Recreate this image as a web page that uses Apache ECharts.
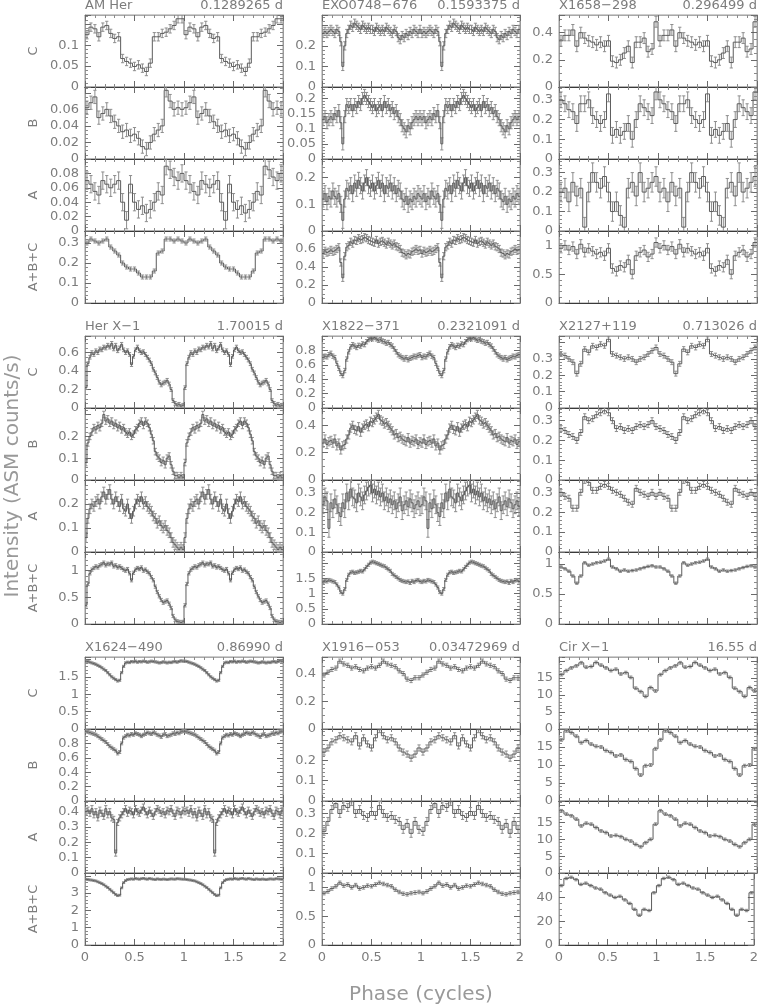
<!DOCTYPE html>
<html><head><meta charset="utf-8">
<script src="https://cdn.jsdelivr.net/npm/echarts@6/dist/echarts.min.js"></script>
<style>html,body{margin:0;padding:0;background:#fff}#c{width:761px;height:1007px}</style>
</head><body><div id="c"></div><script>
// ---------- DATA ----------
const SOURCES = ['AM Her','EXO0748\u2212676','X1658\u2212298','Her X\u22121','X1822\u2212371','X2127+119','X1624\u2212490','X1916\u2212053','Cir X\u22121'];
const PERIODS = ['0.1289265 d','0.1593375 d','0.296499 d','1.70015 d','0.2321091 d','0.713026 d','0.86990 d','0.03472969 d','16.55 d'];
const BANDS = ['C','B','A','A+B+C'];
const X_TICKS = [0, 0.5, 1, 1.5, 2];

// one folded cycle per band (the chart repeats it over phase 0-2)
const AMHER_C = [0.125,0.143,0.139,0.120,0.143,0.147,0.128,0.116,0.120,0.068,0.061,0.057,0.049,0.053,0.045,0.037,0.057,0.120,0.120,0.128,0.131,0.139,0.147,0.163,0.163];
const AMHER_B = [0.062,0.068,0.075,0.050,0.055,0.060,0.052,0.045,0.040,0.033,0.035,0.028,0.030,0.025,0.015,0.012,0.020,0.030,0.035,0.040,0.083,0.070,0.060,0.062,0.060];
const AMHER_A = [0.070,0.065,0.055,0.050,0.070,0.065,0.060,0.065,0.070,0.040,0.015,0.065,0.040,0.030,0.035,0.025,0.030,0.040,0.055,0.050,0.090,0.085,0.075,0.070,0.080];
const AMHER_ABC = [0.30,0.32,0.31,0.30,0.31,0.32,0.28,0.26,0.24,0.20,0.18,0.17,0.17,0.15,0.13,0.13,0.13,0.16,0.25,0.26,0.32,0.32,0.31,0.32,0.31];

const EXO_C = [0.26,0.27,0.26,0.27,0.28,0.27,0.26,0.28,0.27,0.22,0.10,0.20,0.26,0.28,0.30,0.29,0.31,0.30,0.29,0.28,0.30,0.29,0.28,0.29,0.28,0.28,0.27,0.29,0.28,0.27,0.28,0.27,0.29,0.28,0.27,0.26,0.28,0.27,0.24,0.23,0.25,0.24,0.26,0.25,0.27,0.26,0.28,0.27,0.26,0.28];
const EXO_B = [0.13,0.14,0.12,0.13,0.14,0.13,0.15,0.14,0.16,0.12,0.05,0.14,0.18,0.17,0.18,0.16,0.18,0.17,0.19,0.18,0.20,0.21,0.20,0.19,0.18,0.17,0.18,0.16,0.17,0.18,0.16,0.19,0.17,0.18,0.16,0.17,0.15,0.16,0.14,0.13,0.11,0.10,0.09,0.11,0.10,0.12,0.13,0.14,0.13,0.14];
const EXO_A = [0.12,0.14,0.11,0.13,0.12,0.15,0.13,0.12,0.14,0.10,0.04,0.12,0.16,0.15,0.17,0.14,0.18,0.16,0.19,0.17,0.15,0.18,0.20,0.17,0.16,0.18,0.15,0.17,0.19,0.16,0.18,0.14,0.17,0.16,0.18,0.15,0.17,0.14,0.16,0.15,0.12,0.11,0.13,0.10,0.12,0.11,0.13,0.12,0.14,0.13];
const EXO_ABC = [0.55,0.58,0.56,0.57,0.59,0.57,0.58,0.60,0.62,0.45,0.28,0.52,0.62,0.64,0.68,0.66,0.70,0.69,0.72,0.70,0.71,0.73,0.72,0.70,0.69,0.68,0.67,0.70,0.66,0.68,0.69,0.67,0.65,0.68,0.66,0.64,0.66,0.63,0.62,0.60,0.56,0.55,0.53,0.55,0.54,0.57,0.58,0.60,0.58,0.59];

const X1658_C = [0.34,0.38,0.38,0.42,0.30,0.40,0.36,0.34,0.33,0.31,0.33,0.30,0.34,0.19,0.18,0.20,0.25,0.30,0.18,0.33,0.33,0.36,0.26,0.28,0.48];
const X1658_B = [0.30,0.28,0.25,0.24,0.18,0.28,0.28,0.30,0.22,0.20,0.18,0.20,0.33,0.12,0.15,0.12,0.14,0.18,0.10,0.20,0.28,0.26,0.24,0.22,0.34];
const X1658_A = [0.20,0.22,0.15,0.25,0.18,0.22,0.02,0.20,0.30,0.25,0.22,0.28,0.20,0.10,0.15,0.08,0.02,0.22,0.25,0.18,0.30,0.20,0.22,0.25,0.28];
const X1658_ABC = [0.95,1.00,0.92,0.98,0.85,1.02,0.88,0.95,0.90,0.85,0.88,0.82,0.95,0.60,0.55,0.65,0.62,0.75,0.50,0.82,0.88,0.92,0.80,0.85,1.05];

const HERX1_C = [0.22,0.48,0.55,0.60,0.58,0.62,0.60,0.64,0.63,0.66,0.65,0.68,0.66,0.70,0.64,0.68,0.62,0.65,0.69,0.63,0.60,0.62,0.58,0.47,0.56,0.63,0.66,0.62,0.60,0.61,0.58,0.55,0.52,0.48,0.42,0.38,0.33,0.28,0.25,0.27,0.28,0.30,0.26,0.20,0.08,0.05,0.03,0.04,0.02,0.03];
const HERX1_B = [0.08,0.17,0.20,0.22,0.24,0.23,0.25,0.24,0.26,0.30,0.27,0.28,0.26,0.27,0.25,0.26,0.24,0.25,0.23,0.24,0.22,0.21,0.22,0.20,0.21,0.23,0.24,0.26,0.27,0.25,0.27,0.26,0.24,0.21,0.18,0.13,0.11,0.10,0.08,0.09,0.07,0.10,0.11,0.07,0.04,0.02,0.02,0.01,0.02,0.01];
const HERX1_A = [0.06,0.14,0.18,0.20,0.19,0.21,0.22,0.20,0.23,0.25,0.22,0.24,0.26,0.22,0.20,0.23,0.21,0.19,0.22,0.18,0.17,0.20,0.16,0.14,0.17,0.20,0.22,0.21,0.23,0.20,0.21,0.19,0.18,0.17,0.15,0.14,0.12,0.13,0.11,0.10,0.11,0.09,0.08,0.06,0.04,0.03,0.02,0.01,0.02,0.01];
const HERX1_ABC = [0.35,0.75,0.95,1.02,1.05,1.08,1.06,1.10,1.12,1.15,1.10,1.13,1.12,1.15,1.08,1.10,1.06,1.08,1.05,1.02,1.00,1.03,0.95,0.82,0.96,1.02,1.05,1.03,1.06,1.00,1.02,0.98,0.95,0.88,0.82,0.70,0.60,0.52,0.45,0.40,0.42,0.44,0.38,0.30,0.15,0.08,0.05,0.04,0.03,0.04];

const X1822_C = [0.70,0.72,0.71,0.74,0.76,0.72,0.70,0.62,0.55,0.48,0.45,0.52,0.68,0.78,0.85,0.88,0.86,0.84,0.87,0.86,0.89,0.88,0.92,0.95,0.97,0.96,0.98,0.96,0.94,0.95,0.93,0.92,0.90,0.91,0.88,0.86,0.82,0.78,0.74,0.72,0.70,0.68,0.70,0.67,0.69,0.70,0.72,0.71,0.73,0.74];
const X1822_B = [0.27,0.30,0.26,0.28,0.29,0.27,0.30,0.25,0.27,0.22,0.25,0.26,0.30,0.33,0.38,0.40,0.37,0.36,0.39,0.35,0.38,0.40,0.41,0.39,0.43,0.42,0.44,0.46,0.48,0.44,0.43,0.41,0.42,0.40,0.38,0.36,0.33,0.34,0.31,0.32,0.30,0.29,0.28,0.31,0.27,0.29,0.28,0.30,0.26,0.28];
const X1822_A = [0.24,0.28,0.26,0.12,0.25,0.22,0.27,0.24,0.20,0.18,0.25,0.22,0.30,0.26,0.32,0.28,0.27,0.25,0.30,0.28,0.26,0.29,0.31,0.33,0.34,0.30,0.32,0.29,0.31,0.28,0.30,0.26,0.28,0.25,0.27,0.24,0.26,0.22,0.25,0.28,0.21,0.24,0.26,0.23,0.27,0.25,0.22,0.24,0.26,0.23];
const X1822_ABC = [1.38,1.42,1.40,1.45,1.43,1.40,1.38,1.30,1.20,1.05,1.00,1.15,1.45,1.62,1.70,1.72,1.68,1.70,1.72,1.75,1.73,1.80,1.88,1.95,2.02,2.05,2.03,2.00,1.98,1.95,1.92,1.90,1.85,1.80,1.75,1.65,1.60,1.55,1.50,1.45,1.42,1.40,1.38,1.40,1.35,1.42,1.38,1.43,1.45,1.40];

const X2127_C = [0.33,0.32,0.30,0.28,0.21,0.27,0.36,0.34,0.38,0.37,0.39,0.38,0.42,0.33,0.32,0.31,0.30,0.31,0.30,0.28,0.30,0.31,0.33,0.35,0.37];
const X2127_B = [0.26,0.25,0.23,0.22,0.20,0.24,0.32,0.30,0.31,0.33,0.34,0.35,0.34,0.30,0.26,0.27,0.25,0.26,0.25,0.27,0.28,0.27,0.28,0.30,0.27];
const X2127_A = [0.30,0.28,0.27,0.22,0.22,0.30,0.36,0.35,0.31,0.31,0.33,0.34,0.33,0.31,0.30,0.29,0.27,0.25,0.24,0.32,0.30,0.29,0.28,0.30,0.28];
const X2127_ABC = [0.95,0.92,0.88,0.80,0.68,0.80,1.02,0.98,1.00,1.02,1.03,1.05,1.08,0.95,0.92,0.88,0.90,0.88,0.89,0.90,0.92,0.94,0.96,0.97,0.95];

const X1624_C = [1.95,1.94,1.92,1.90,1.88,1.86,1.83,1.80,1.76,1.72,1.68,1.62,1.56,1.50,1.46,1.42,1.38,1.40,1.62,1.80,1.90,1.92,1.91,1.94,1.93,1.95,1.92,1.94,1.93,1.95,1.94,1.92,1.93,1.95,1.94,1.93,1.92,1.90,1.91,1.93,1.92,1.90,1.92,1.91,1.93,1.94,1.92,1.94,1.96,1.95];
const X1624_B = [0.97,0.96,0.95,0.94,0.93,0.92,0.90,0.88,0.86,0.84,0.82,0.79,0.76,0.74,0.72,0.70,0.66,0.68,0.80,0.88,0.90,0.92,0.91,0.93,0.92,0.94,0.93,0.92,0.90,0.92,0.93,0.95,0.94,0.93,0.95,0.94,0.92,0.91,0.89,0.92,0.93,0.90,0.91,0.92,0.94,0.93,0.95,0.94,0.96,0.97];
const X1624_A = [0.40,0.41,0.39,0.42,0.38,0.40,0.36,0.41,0.39,0.37,0.42,0.38,0.40,0.36,0.35,0.13,0.33,0.36,0.38,0.40,0.42,0.39,0.41,0.40,0.38,0.42,0.40,0.39,0.41,0.43,0.40,0.38,0.41,0.39,0.37,0.40,0.42,0.41,0.39,0.40,0.38,0.41,0.40,0.42,0.39,0.37,0.41,0.40,0.38,0.41];
const X1624_ABC = [3.80,3.78,3.76,3.75,3.72,3.70,3.65,3.60,3.55,3.48,3.40,3.32,3.22,3.12,3.02,2.92,2.85,2.88,3.30,3.60,3.72,3.78,3.80,3.82,3.80,3.84,3.82,3.80,3.83,3.85,3.82,3.80,3.84,3.82,3.80,3.78,3.82,3.80,3.79,3.81,3.80,3.78,3.80,3.82,3.81,3.80,3.83,3.82,3.81,3.80];

const X1916_C = [0.39,0.41,0.43,0.44,0.49,0.47,0.46,0.44,0.45,0.43,0.42,0.44,0.45,0.44,0.46,0.49,0.47,0.46,0.45,0.42,0.40,0.36,0.35,0.37,0.37];
const X1916_B = [0.24,0.26,0.29,0.30,0.32,0.31,0.30,0.29,0.32,0.27,0.31,0.28,0.26,0.31,0.35,0.32,0.30,0.31,0.29,0.26,0.24,0.23,0.21,0.23,0.26];
const X1916_A = [0.21,0.26,0.32,0.35,0.30,0.34,0.33,0.36,0.30,0.32,0.29,0.28,0.31,0.29,0.34,0.30,0.28,0.29,0.27,0.26,0.22,0.25,0.20,0.26,0.22];
const X1916_ABC = [0.90,0.93,0.98,1.02,1.08,1.03,1.05,1.00,1.04,0.98,1.00,1.03,1.02,1.05,1.08,1.06,1.04,1.02,0.96,0.92,0.89,0.88,0.90,0.91,0.92];

const CIRX1_C = [16.0,17.2,18.0,18.6,19.5,18.2,18.4,19.6,18.8,18.0,17.2,17.6,16.2,16.6,15.2,12.0,11.0,9.6,12.2,11.2];
const CIRX1_B = [17.0,19.5,19.0,18.0,16.2,16.8,15.8,15.2,15.0,14.0,13.5,12.5,12.8,11.5,11.0,9.0,7.2,9.8,10.0,14.5];
const CIRX1_A = [18.5,17.5,17.0,16.0,14.0,14.8,14.5,13.5,12.5,12.0,11.0,11.2,10.8,10.0,9.5,8.5,7.8,9.0,10.0,14.5];
const CIRX1_ABC = [50,56,57,55,51,52,50,48,47,44,42,40,41,38,35,30,25,30,29,44];

const DATA = [
  [AMHER_C, AMHER_B, AMHER_A, AMHER_ABC],
  [EXO_C, EXO_B, EXO_A, EXO_ABC],
  [X1658_C, X1658_B, X1658_A, X1658_ABC],
  [HERX1_C, HERX1_B, HERX1_A, HERX1_ABC],
  [X1822_C, X1822_B, X1822_A, X1822_ABC],
  [X2127_C, X2127_B, X2127_A, X2127_ABC],
  [X1624_C, X1624_B, X1624_A, X1624_ABC],
  [X1916_C, X1916_B, X1916_A, X1916_ABC],
  [CIRX1_C, CIRX1_B, CIRX1_A, CIRX1_ABC]
];
// typical 1-sigma error per panel
const ERRORS = [
  [0.010,0.008,0.012,0.010],[0.02,0.02,0.03,0.04],[0.04,0.04,0.05,0.08],
  [0.02,0.015,0.02,0.03],[0.03,0.03,0.045,0.05],[0.015,0.015,0.015,0.02],
  [0.03,0.02,0.02,0.05],[0.015,0.015,0.02,0.03],[0.4,0.4,0.4,1.0]
];
// y-axis maxima, tick steps and highest labelled tick per panel
const Y_MAX = [
  [0.172,0.087,0.100,0.36],[0.35,0.238,0.27,0.80],[0.53,0.365,0.37,1.25],
  [0.78,0.33,0.30,1.35],[1.0,0.527,0.366,2.37],[0.44,0.364,0.362,1.2],
  [2.07,1.0,0.47,4.16],[0.52,0.353,0.363,1.25],[21.2,20,21.4,60.6]
];
const Y_STEP = [
  [0.05,0.02,0.02,0.1],[0.1,0.05,0.1,0.2],[0.2,0.1,0.1,0.5],
  [0.2,0.1,0.1,0.5],[0.2,0.2,0.1,0.5],[0.1,0.1,0.1,0.5],
  [0.5,0.2,0.1,1],[0.2,0.1,0.1,0.5],[5,5,5,20]
];
const Y_TOPLABEL = [
  [0.1,0.06,0.08,0.3],[0.2,0.2,0.2,0.6],[0.4,0.3,0.3,1],
  [0.6,0.2,0.2,1],[0.8,0.4,0.3,1.5],[0.3,0.3,0.3,1],
  [1.5,0.8,0.4,3],[0.4,0.2,0.3,1],[15,15,15,40]
];

// ---------- LAYOUT ----------
const COL_LEFT = [85, 322, 559];
const GROUP_TOP = [15, 336, 657];
const PW = 198, PH = 72;
const FONT = 'DejaVu Sans';
const TXT = '#7c7c7c';

const grids = [], xAxes = [], yAxes = [], series = [], graphics = [];

function renderItem(params, api) {
  const x0 = api.value(0), x1 = api.value(1), y = api.value(2), e = api.value(3), prev = api.value(4);
  const a = api.coord([x0, y]), b = api.coord([x1, y]);
  const pp = api.coord([x0, prev]);
  const xc = (x0 + x1) / 2;
  const t = api.coord([xc, y + e]), d = api.coord([xc, y - e]);
  const cw = 1.6;
  const eStyle = {stroke: '#8e8e8e', lineWidth: 1};
  const sStyle = {stroke: '#5c5c5c', lineWidth: 1};
  return {type: 'group', children: [
    {type: 'line', shape: {x1: t[0], y1: t[1], x2: d[0], y2: d[1]}, style: eStyle},
    {type: 'line', shape: {x1: t[0]-cw, y1: t[1], x2: t[0]+cw, y2: t[1]}, style: eStyle},
    {type: 'line', shape: {x1: d[0]-cw, y1: d[1], x2: d[0]+cw, y2: d[1]}, style: eStyle},
    {type: 'line', shape: {x1: pp[0], y1: pp[1], x2: a[0], y2: a[1]}, style: sStyle},
    {type: 'line', shape: {x1: a[0], y1: a[1], x2: b[0], y2: b[1]}, style: sStyle}
  ]};
}

let gi = 0;
for (let g = 0; g < 3; g++) {
  for (let c = 0; c < 3; c++) {
    const s = g * 3 + c;
    graphics.push({type: 'text', left: COL_LEFT[c], top: GROUP_TOP[g] - 16,
      style: {text: SOURCES[s], font: '13px ' + FONT, fill: TXT}});
    graphics.push({type: 'text', right: 761 - (COL_LEFT[c] + PW), top: GROUP_TOP[g] - 16,
      style: {text: PERIODS[s], font: '13px ' + FONT, fill: TXT, align: 'right'}});
    for (let b = 0; b < 4; b++) {
      const vals = DATA[s][b], n = vals.length, err = ERRORS[s][b];
      const top = Y_TOPLABEL[s][b];
      const step = Y_STEP[s][b];
      const minorSplit = (Math.abs(step / Math.pow(10, Math.floor(Math.log10(step))) - 2) < 1e-9) ? 4 : 5;
      grids.push({left: COL_LEFT[c], top: GROUP_TOP[g] + b * PH, width: PW, height: PH,
        show: true, borderColor: '#9a9a9a', borderWidth: 1});
      const bottomRow = (g === 2 && b === 3);
      const tickCommon = {
        axisTick: {show: true, inside: true, length: 6, lineStyle: {color: '#6a6a6a'}},
        minorTick: {show: true, splitNumber: 5, length: 3, lineStyle: {color: '#8a8a8a'}},
        splitLine: {show: false}, minorSplitLine: {show: false}
      };
      xAxes.push(Object.assign({gridIndex: gi, type: 'value', min: X_TICKS[0], max: X_TICKS[X_TICKS.length-1], interval: X_TICKS[1]-X_TICKS[0],
        position: 'bottom',
        axisLine: {show: true, onZero: false, lineStyle: {color: '#3a3a3a', width: 1}},
        axisLabel: {show: bottomRow, color: TXT, fontFamily: FONT, fontSize: 13, margin: 6,
          formatter: v => String(v)}}, tickCommon));
      xAxes.push(Object.assign({gridIndex: gi, type: 'value', min: X_TICKS[0], max: X_TICKS[X_TICKS.length-1], interval: X_TICKS[1]-X_TICKS[0],
        position: 'top',
        axisLine: {show: true, onZero: false, lineStyle: {color: b === 0 ? '#a8a8a8' : '#3a3a3a', width: 1}},
        axisLabel: {show: false}}, tickCommon));
      const yTick = {
        axisTick: {show: true, inside: true, length: 6, lineStyle: {color: '#6a6a6a'}},
        minorTick: {show: true, splitNumber: minorSplit, length: 3, lineStyle: {color: '#8a8a8a'}},
        splitLine: {show: false}, minorSplitLine: {show: false}
      };
      yAxes.push(Object.assign({gridIndex: gi, type: 'value', min: 0, max: Y_MAX[s][b], interval: step,
        position: 'left',
        axisLine: {show: true, onZero: false, lineStyle: {color: '#9a9a9a'}},
        axisLabel: {show: true, color: TXT, fontFamily: FONT, fontSize: 13, margin: 6,
          showMaxLabel: false,
          formatter: v => (v > top + 1e-9 ? '' : String(+v.toFixed(6)))},
        name: c === 0 ? BANDS[b] : '', nameLocation: 'middle', nameRotate: 90, nameGap: 45,
        nameTextStyle: {color: TXT, fontFamily: FONT, fontSize: 13}}, yTick));
      yAxes.push(Object.assign({gridIndex: gi, type: 'value', min: 0, max: Y_MAX[s][b], interval: step,
        position: 'right',
        axisLine: {show: true, onZero: false, lineStyle: {color: '#9a9a9a'}},
        axisLabel: {show: false}}, yTick));
      const items = [];
      for (let k = 0; k < 2 * n; k++) {
        const v = vals[k % n];
        const pv = k > 0 ? vals[(k - 1) % n] : v;
        items.push([k / n, (k + 1) / n, v, err, pv]);
      }
      series.push({type: 'custom', xAxisIndex: 2 * gi, yAxisIndex: 2 * gi, clip: true,
        renderItem: renderItem, data: items, silent: true, animation: false,
        encode: {x: [0, 1], y: 2}});
      gi++;
    }
  }
}

graphics.push({type: 'text', x: 13, y: 476, rotation: Math.PI / 2,
  style: {text: 'Intensity (ASM counts/s)', font: '20px ' + FONT, fill: '#999', align: 'center', verticalAlign: 'middle'}});
graphics.push({type: 'text', x: 421, y: 995,
  style: {text: 'Phase (cycles)', font: '20px ' + FONT, fill: '#999', align: 'center', verticalAlign: 'middle'}});

const chart = echarts.init(document.getElementById('c'), null, {renderer: 'canvas'});
chart.setOption({animation: false, backgroundColor: '#fff', grid: grids, xAxis: xAxes, yAxis: yAxes, series: series, graphic: graphics});
</script></body></html>
